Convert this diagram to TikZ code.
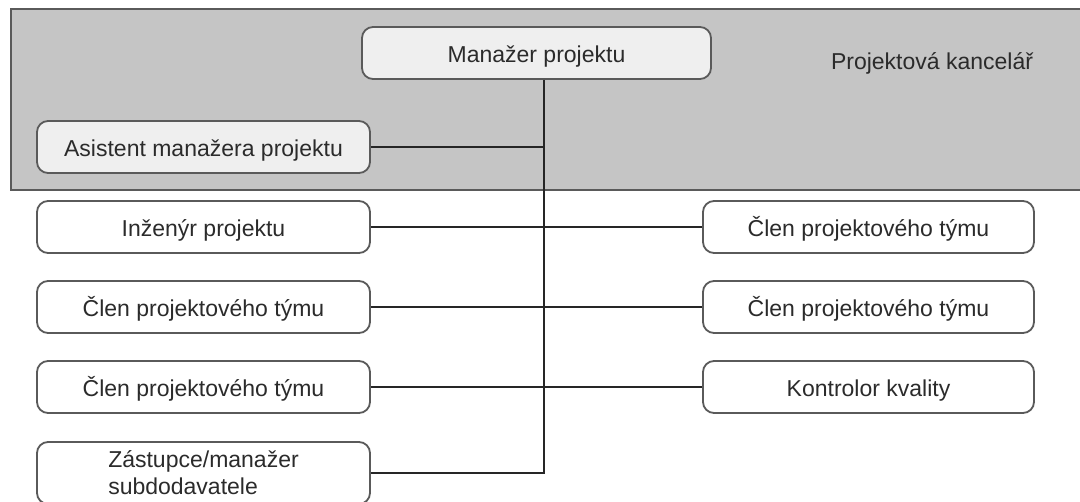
\documentclass[tikz,border=0pt]{standalone}
\usepackage{fontspec}
\setmainfont{Liberation Sans}
\definecolor{officegray}{HTML}{C5C5C5}
\definecolor{edgegray}{HTML}{5A5A5A}
\definecolor{txtgray}{HTML}{2B2B2B}
\definecolor{lightfill}{HTML}{EFEFEF}
\begin{document}
\begin{tikzpicture}[x=1pt,y=-1pt,
  rolebox/.style={draw=edgegray, line width=1.8pt, rounded corners=11pt, fill=white,
    minimum height=52pt, inner sep=0pt, text=txtgray,
    font=\fontsize{23}{27}\selectfont},
  onel/.style={text height=20pt, text depth=0pt},
  leftbox/.style={rolebox, minimum width=333pt},
  rightbox/.style={rolebox, minimum width=331pt},
  officebox/.style={rolebox, fill=lightfill},
  link/.style={draw=black!85, line width=1.8pt}]
\useasboundingbox (0,0) rectangle (1080,502);
% project office area
\path[fill=officegray, draw=edgegray, line width=2pt] (11,9) rectangle (1084,190);
\node[text=txtgray, font=\fontsize{23}{27}\selectfont] (office) at (932,63) {Projektová kancelář};
% nodes
\node[officebox, onel, minimum width=349pt] (mp) at (536.5,53) {Manažer projektu};
\node[officebox, onel, minimum width=333pt] (as) at (203.5,147) {Asistent manažera projektu};
\node[leftbox, onel] (ing) at (203.5,227) {Inženýr projektu};
\node[leftbox, onel] (cl1) at (203.5,307) {Člen projektového týmu};
\node[leftbox, onel] (cl2) at (203.5,387) {Člen projektového týmu};
\node[leftbox, minimum height=62pt, align=left] (zas) at (203.5,473) {Zástupce/manažer\\subdodavatele};
\node[rightbox, onel] (r1) at (868.5,227) {Člen projektového týmu};
\node[rightbox, onel] (r2) at (868.5,307) {Člen projektového týmu};
\node[rightbox, onel] (kk) at (868.5,387) {Kontrolor kvality};
% connectors
\coordinate (trunk) at (544,0);
\draw[link] (mp.south -| trunk) |- (zas.east);
\draw[link] (as.east) -- (as.east -| trunk);
\draw[link] (ing.east) -- (r1.west);
\draw[link] (cl1.east) -- (r2.west);
\draw[link] (cl2.east) -- (kk.west);
\end{tikzpicture}
\end{document}
